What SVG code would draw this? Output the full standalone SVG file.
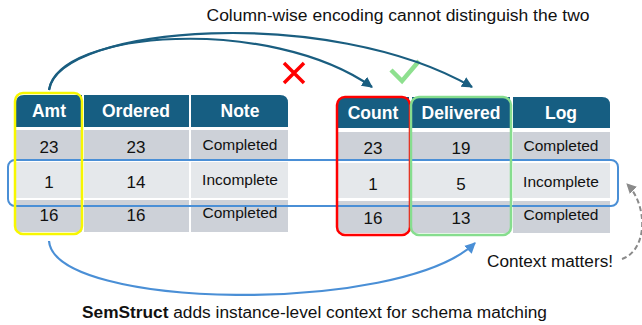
<svg xmlns="http://www.w3.org/2000/svg" width="642" height="325" viewBox="0 0 642 325">
<style>
.hd{fill:#165e82}
.r1{fill:#cdd1d8}
.r2{fill:#e5e8eb}
.ht{font-family:"Liberation Sans",Arial,sans-serif;font-weight:bold;font-size:17.5px;fill:#fff;text-anchor:middle}
.num{font-family:"Liberation Sans",Arial,sans-serif;font-size:17px;fill:#111;text-anchor:middle}
.wd{font-family:"Liberation Sans",Arial,sans-serif;font-size:15.5px;fill:#111;text-anchor:middle}
.cap{font-family:"Liberation Sans",Arial,sans-serif;font-size:16px;fill:#111}
.sel{fill:none;stroke-width:2.5}
</style>
<defs>
<marker id="ah" viewBox="0 0 10 10" refX="9" refY="5" markerWidth="5" markerHeight="5" orient="auto" markerUnits="strokeWidth"><path d="M0,0 L10,5 L0,10 z" fill="#1a5e80"/></marker>
<marker id="ab" viewBox="0 0 10 10" refX="9" refY="5" markerWidth="5" markerHeight="5" orient="auto" markerUnits="strokeWidth"><path d="M0,0 L10,5 L0,10 z" fill="#4a8fd6"/></marker>
<marker id="ag" viewBox="0 0 10 10" refX="9" refY="5" markerWidth="5" markerHeight="5" orient="auto" markerUnits="strokeWidth"><path d="M0,0 L10,5 L0,10 z" fill="#8a8a8a"/></marker>
</defs>

<text class="cap" x="398" y="21" text-anchor="middle" textLength="383" lengthAdjust="spacingAndGlyphs">Column-wise encoding cannot distinguish the two</text>

<g id="table-left">
<path class="hd" d="M16,127 V103 Q16,95 24,95 H82 V127 z"/>
<rect class="hd" x="84" y="95" width="105" height="32"/>
<path class="hd" d="M191,95 H280 Q288,95 288,103 V127 H191 z"/>
<text class="ht" x="49" y="117">Amt</text>
<text class="ht" x="136" y="117">Ordered</text>
<text class="ht" x="240" y="117">Note</text>
<rect class="r1" x="16" y="130" width="66" height="30"/>
<rect class="r1" x="84" y="130" width="105" height="30"/>
<rect class="r1" x="191" y="130" width="97" height="30"/>
<rect class="r2" x="16" y="162" width="66" height="36"/>
<rect class="r2" x="84" y="162" width="105" height="36"/>
<rect class="r2" x="191" y="162" width="97" height="36"/>
<rect class="r1" x="16" y="200" width="66" height="32"/>
<rect class="r1" x="84" y="200" width="105" height="32"/>
<rect class="r1" x="191" y="200" width="97" height="32"/>
<text class="num" x="49" y="153">23</text>
<text class="num" x="136" y="153">23</text>
<text class="wd" x="240" y="150">Completed</text>
<text class="num" x="49" y="188">1</text>
<text class="num" x="136" y="188">14</text>
<text class="wd" x="240" y="185">Incomplete</text>
<text class="num" x="49" y="221">16</text>
<text class="num" x="136" y="221">16</text>
<text class="wd" x="240" y="218">Completed</text>
</g>

<g id="table-right">
<path class="hd" d="M338,128 V105 Q338,97 346,97 H409 V128 z"/>
<rect class="hd" x="412" y="97" width="98" height="31"/>
<path class="hd" d="M513,97 H602 Q610,97 610,105 V128 H513 z"/>
<text class="ht" x="373" y="119">Count</text>
<text class="ht" x="461" y="119">Delivered</text>
<text class="ht" x="561" y="119">Log</text>
<rect class="r1" x="338" y="132" width="71" height="29"/>
<rect class="r1" x="412" y="132" width="98" height="29"/>
<rect class="r1" x="513" y="132" width="97" height="29"/>
<rect class="r2" x="338" y="163" width="71" height="35"/>
<rect class="r2" x="412" y="163" width="98" height="35"/>
<rect class="r2" x="513" y="163" width="97" height="35"/>
<rect class="r1" x="338" y="201" width="71" height="32"/>
<rect class="r1" x="412" y="201" width="98" height="32"/>
<rect class="r1" x="513" y="201" width="97" height="32"/>
<text class="num" x="373" y="154">23</text>
<text class="num" x="461" y="154">19</text>
<text class="wd" x="561" y="151">Completed</text>
<text class="num" x="373" y="190">1</text>
<text class="num" x="461" y="190">5</text>
<text class="wd" x="561" y="187">Incomplete</text>
<text class="num" x="373" y="224">16</text>
<text class="num" x="461" y="224">13</text>
<text class="wd" x="561" y="220">Completed</text>
</g>

<g id="row-highlight">
<rect x="8" y="160" width="610" height="46" rx="7" fill="none" stroke="#4a8fd6" stroke-width="2"/>
</g>
<g id="col-amt"><rect class="sel" x="15" y="93" width="67" height="141" rx="8" stroke="#f7f700"/></g>
<g id="col-count"><rect class="sel" x="337" y="97" width="73" height="138" rx="8" stroke="#ff0000"/></g>
<g id="col-delivered"><rect class="sel" x="411" y="97" width="100" height="138" rx="8" stroke="#86dd8e"/></g>

<g id="marks">
<path d="M284,63 L304,83 M304,63 L284,83" stroke="#ff0000" stroke-width="3.5" fill="none"/>
<path d="M391,70 L402,81 L419,61" stroke="#8ee08f" stroke-width="4.5" fill="none"/>
</g>

<g id="connectors" fill="none">
<path d="M49,90 C58,30 270,15 372,87" stroke="#1a5e80" stroke-width="2.2" marker-end="url(#ah)"/>
<path d="M49,90 C60,25 330,5 472,87" stroke="#1a5e80" stroke-width="2.2" marker-end="url(#ah)"/>
<path d="M49,241 C55,310 400,315 475,243" stroke="#4a8fd6" stroke-width="2.2" marker-end="url(#ab)"/>
<path d="M622,259 C648,250 648,205 627,184" stroke="#8a8a8a" stroke-width="2" stroke-dasharray="5,3" marker-end="url(#ag)"/>
</g>

<text class="cap" x="487" y="267" font-size="15" textLength="126" lengthAdjust="spacingAndGlyphs">Context matters!</text>
<text class="cap" x="82" y="318" textLength="465" lengthAdjust="spacingAndGlyphs"><tspan font-weight="bold">SemStruct</tspan> adds instance-level context for schema matching</text>
</svg>
